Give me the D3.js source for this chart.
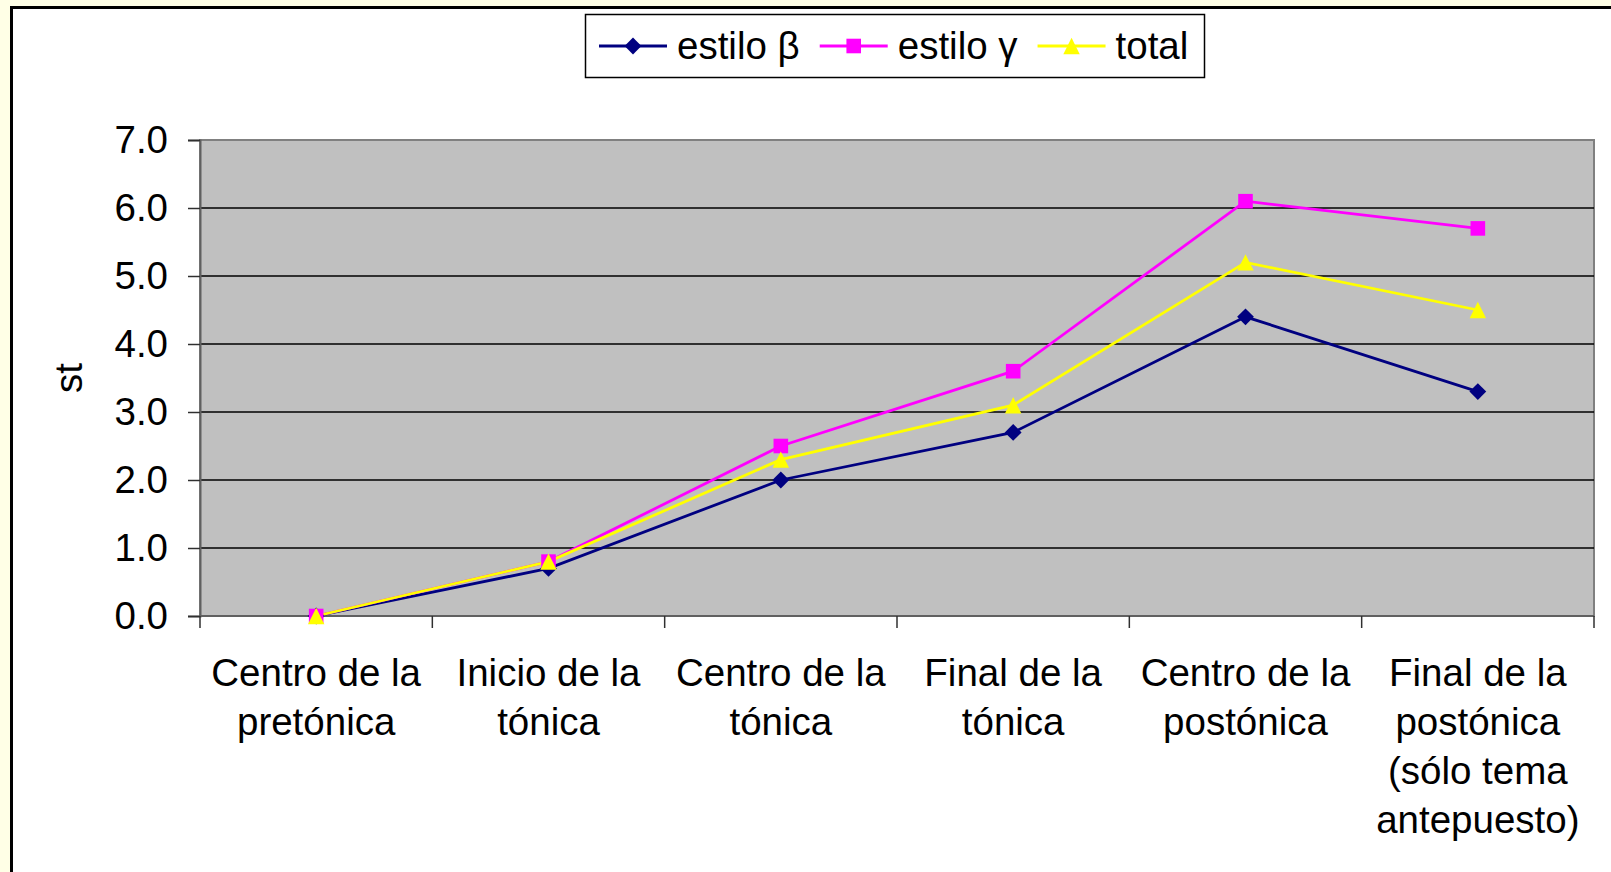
<!DOCTYPE html>
<html>
<head>
<meta charset="utf-8">
<script src="https://cdn.jsdelivr.net/npm/d3@7"></script>
<style>
  body { margin: 0; background: #FFFFE6; }
  svg text { font-family: "Liberation Sans", Arial, sans-serif; fill: #000; }
</style>
</head>
<body>
<div id="chart"></div>
<script>
/* global d3 */

// categories (one label line per array entry)
var categories = [
	["Centro de la", "pretónica"],
	["Inicio de la", "tónica"],
	["Centro de la", "tónica"],
	["Final de la", "tónica"],
	["Centro de la", "postónica"],
	["Final de la", "postónica", "(sólo tema", "antepuesto)"]
];

var betaValues  = [0.0, 0.7, 2.0, 2.7, 4.4, 3.3];
var gammaValues = [0.0, 0.8, 2.5, 3.6, 6.1, 5.7];
var totalValues = [0.0, 0.8, 2.3, 3.1, 5.2, 4.5];

var seriesNames = ["estilo β", "estilo γ", "total"];
var yTicks = [0, 1, 2, 3, 4, 5, 6, 7];
var yLabel = "st";

var W = 1611, H = 872;
var FONT = 38.5;

// Excel-like marker shapes; size = half extent in px
var excelDiamond = { draw: function(ctx, r){ ctx.moveTo(0, -r); ctx.lineTo(r, 0); ctx.lineTo(0, r); ctx.lineTo(-r, 0); ctx.closePath(); } };
var excelSquare = { draw: function(ctx, r){ ctx.rect(-r, -r, 2 * r, 2 * r); } };
var excelTriangle = { draw: function(ctx, r){ ctx.moveTo(0, -r); ctx.lineTo(r, r); ctx.lineTo(-r, r); ctx.closePath(); } };

var series = [
	{ name: seriesNames[0], values: betaValues,  color: "#000080", shape: excelDiamond, size: 8.4 },
	{ name: seriesNames[1], values: gammaValues, color: "#FF00FF", shape: excelSquare, size: 7.3 },
	{ name: seriesNames[2], values: totalValues, color: "#FFFF00", shape: excelTriangle, size: 8.2 }
];

var plot = { left: 200, right: 1594, top: 140, bottom: 616 };

var svg = d3.select("#chart").append("svg")
	.attr("width", W)
	.attr("height", H);

// yellow page + white chart frame
svg.append("rect").attr("width", W).attr("height", H).attr("fill", "#FFFFE6");
svg.append("rect")
	.attr("x", 11.5).attr("y", 7.5)
	.attr("width", W + 20).attr("height", H + 20)
	.attr("fill", "#fff")
	.attr("stroke", "#000")
	.attr("stroke-width", 3);

var x = d3.scaleBand()
	.domain(d3.range(categories.length))
	.range([plot.left, plot.right])
	.padding(0);

var y = d3.scaleLinear()
	.domain([0, 7])
	.range([plot.bottom, plot.top]);

// plot area
svg.append("rect")
	.attr("x", plot.left).attr("y", plot.top)
	.attr("width", plot.right - plot.left)
	.attr("height", plot.bottom - plot.top)
	.attr("fill", "#C0C0C0")
	.attr("stroke", "#808080")
	.attr("stroke-width", 2);

// gridlines
svg.append("g")
	.selectAll("line")
	.data(yTicks.filter(function(d){ return d > 0 && d < 7; }))
	.join("line")
	.attr("x1", plot.left).attr("x2", plot.right)
	.attr("y1", function(d){ return y(d); })
	.attr("y2", function(d){ return y(d); })
	.attr("stroke", "#000")
	.attr("stroke-width", 1.3);

// y axis
var yAxis = svg.append("g")
	.attr("transform", "translate(" + plot.left + ",0)")
	.call(d3.axisLeft(y)
		.tickValues(yTicks)
		.tickFormat(d3.format(".1f"))
		.tickSize(12)
		.tickPadding(20));

yAxis.select(".domain").attr("stroke", "#606060").attr("stroke-width", 2);
yAxis.selectAll(".tick line").attr("stroke", "#303030").attr("stroke-width", 1.5);
yAxis.selectAll(".tick text")
	.attr("font-size", FONT)
	.attr("font-family", "Liberation Sans, Arial, sans-serif")
	.attr("fill", "#000");

// x axis: tick marks on category boundaries
var boundaries = x.domain().map(function(d){ return x(d); }).concat([x.range()[1]]);

svg.append("line")
	.attr("x1", plot.left).attr("x2", plot.right)
	.attr("y1", plot.bottom).attr("y2", plot.bottom)
	.attr("stroke", "#606060")
	.attr("stroke-width", 2);

svg.append("g")
	.selectAll("line")
	.data(boundaries)
	.join("line")
	.attr("x1", function(d){ return d; })
	.attr("x2", function(d){ return d; })
	.attr("y1", plot.bottom)
	.attr("y2", plot.bottom + 12)
	.attr("stroke", "#303030")
	.attr("stroke-width", 1.5);

// category labels
var catLabels = svg.append("g")
	.selectAll("text")
	.data(categories)
	.join("text")
	.attr("text-anchor", "middle")
	.attr("font-size", FONT)
	.attr("x", function(d, i){ return x(i) + x.bandwidth() / 2; })
	.attr("y", plot.bottom + 70);

catLabels.selectAll("tspan")
	.data(function(d){ return d; })
	.join("tspan")
	.attr("x", function(){ return d3.select(this.parentNode).attr("x"); })
	.attr("dy", function(d, i){ return i === 0 ? 0 : 49; })
	.text(function(d){ return d; });

// y label
svg.append("text")
	.attr("transform", "translate(82," + ((plot.top + plot.bottom) / 2) + ") rotate(-90)")
	.attr("text-anchor", "middle")
	.attr("font-size", FONT)
	.text(yLabel);

// lines + markers
var line = d3.line()
	.x(function(d, i){ return x(i) + x.bandwidth() / 2; })
	.y(function(d){ return y(d); });

series.forEach(function(s){
	svg.append("path")
		.datum(s.values)
		.attr("d", line)
		.attr("fill", "none")
		.attr("stroke", s.color)
		.attr("stroke-width", 2.8);
});

series.forEach(function(s){
	svg.append("g")
		.selectAll("path")
		.data(s.values)
		.join("path")
		.attr("transform", function(d, i){
			return "translate(" + (x(i) + x.bandwidth() / 2) + "," + y(d) + ")";
		})
		.attr("d", d3.symbol().type(s.shape).size(s.size))
		.attr("fill", s.color);
});

// legend
var legend = svg.append("g");
legend.append("rect")
	.attr("x", 585.5).attr("y", 14.5)
	.attr("width", 619).attr("height", 63)
	.attr("fill", "#fff")
	.attr("stroke", "#000")
	.attr("stroke-width", 1.5);

var lx = 599;
series.forEach(function(s){
	var item = legend.append("g").attr("transform", "translate(" + lx + ",46)");
	item.append("line")
		.attr("x1", 0).attr("x2", 68)
		.attr("stroke", s.color)
		.attr("stroke-width", 2.8);
	item.append("path")
		.attr("transform", "translate(34,0)")
		.attr("d", d3.symbol().type(s.shape).size(s.size))
		.attr("fill", s.color);
	var t = item.append("text")
		.attr("x", 78)
		.attr("y", 13)
		.attr("font-size", FONT)
		.text(s.name);
	lx += 78 + t.node().getComputedTextLength() + 20;
});
</script>
</body>
</html>
